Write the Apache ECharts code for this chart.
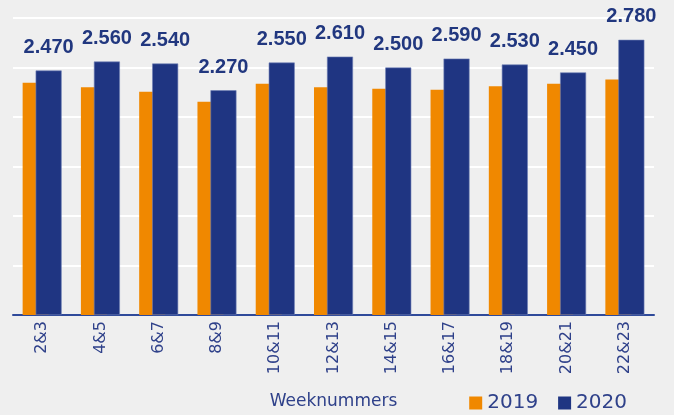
<!DOCTYPE html>
<html>
<head>
<meta charset="utf-8">
<script src="https://cdn.jsdelivr.net/npm/echarts@6/dist/echarts.min.js"></script>
<style>
    html, body { margin: 0; padding: 0; background: #efefef; }
    #chart { width: 674px; height: 415px; }
</style>
</head>
<body>
<div id="chart"></div>
<script>
// weeknummers
var categories = ['2&3', '4&5', '6&7', '8&9', '10&11', '12&13', '14&15', '16&17', '18&19', '20&21', '22&23'];
var values2019 = [2.345, 2.30, 2.255, 2.155, 2.335, 2.30, 2.285, 2.275, 2.31, 2.335, 2.38];
// 2020 waarden (labels)
var values2020 = [2.47, 2.56, 2.54, 2.27, 2.55, 2.61, 2.50, 2.59, 2.53, 2.45, 2.78];

var navy = '#1f3582';
var orange = '#f08800';
var textColor = '#2f418a';

var chart = echarts.init(document.getElementById('chart'));

var opt = {
    backgroundColor: '#efefef',
    animation: false,
    grid: { left: 13, right: 20, top: 18, bottom: 99 },
    legend: {
        right: 42,
        bottom: -3,
        itemWidth: 13,
        itemHeight: 13,
        itemGap: 20,
        icon: 'rect',
        itemStyle: { borderWidth: 0 },
        textStyle: { color: textColor, fontSize: 20, fontFamily: 'DejaVu Sans' },
        data: ['2019', '2020']
    },
    xAxis: {
        type: 'category',
        data: categories,
        name: 'Weeknummers',
        nameLocation: 'middle',
        nameGap: 78,
        nameTextStyle: { color: textColor, fontSize: 17, fontFamily: 'DejaVu Sans' },
        axisLine: { lineStyle: { color: '#2f4a9a', width: 2 } },
        axisTick: { show: false },
        axisLabel: {
            rotate: 90,
            color: textColor,
            fontSize: 16,
            fontFamily: 'DejaVu Sans',
            margin: 6
        }
    },
    yAxis: {
        type: 'value',
        min: 0,
        max: 3,
        interval: 0.5,
        axisLabel: { show: false },
        axisLine: { show: false },
        axisTick: { show: false },
        splitLine: { lineStyle: { color: '#ffffff', width: 2 } }
    },
    series: [
        {
            name: '2019',
            type: 'bar',
            data: values2019,
            barWidth: 26,
            barGap: '-50%',
            itemStyle: { color: orange }
        },
        {
            name: '2020',
            type: 'bar',
            data: values2020,
            barWidth: 26,
            barGap: '-50%',
            itemStyle: { color: navy, borderColor: '#6f7fb5', borderWidth: 0.6 },
            label: {
                show: true,
                position: 'top',
                distance: 13,
                color: '#21377f',
                fontSize: 20,
                fontWeight: 'bold',
                fontFamily: 'Liberation Sans',
                formatter: function (p) { return p.value.toFixed(3); }
            }
        }
    ]
};

chart.setOption(opt);
</script>
</body>
</html>
